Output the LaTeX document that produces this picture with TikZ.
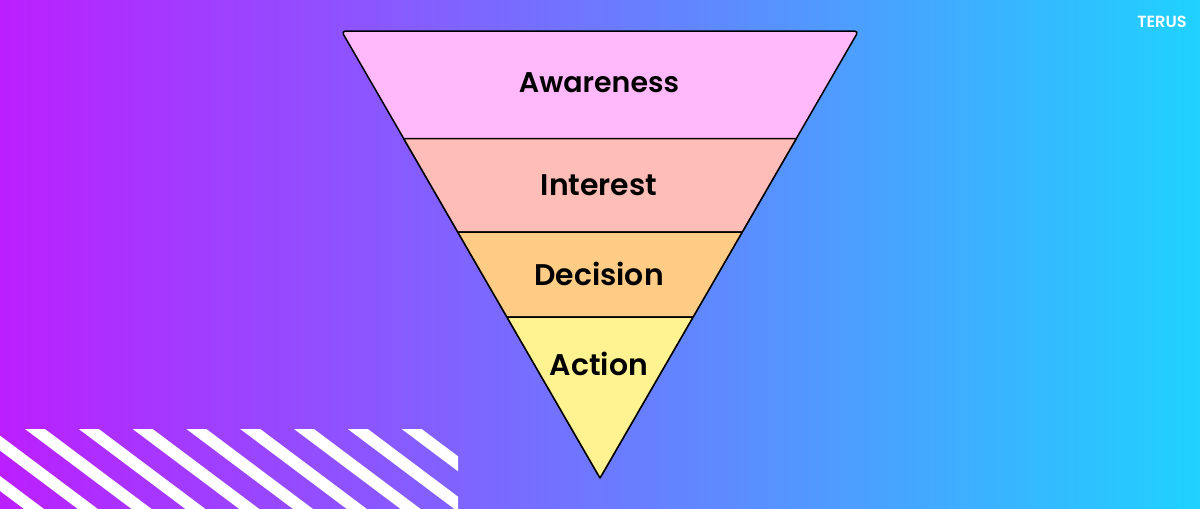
\documentclass[tikz,border=0pt]{standalone}
\usepackage{fontspec}
\setmainfont{Poppins}[BoldFont=Poppins SemiBold]
\usetikzlibrary{calc}
\definecolor{bgleft}{HTML}{BB1FFF}
\definecolor{bgmid}{HTML}{7070FF}
\definecolor{bgright}{HTML}{1FD2FF}
\definecolor{awarecol}{HTML}{FFB8FA}
\definecolor{interestcol}{HTML}{FFBDB8}
\definecolor{decisioncol}{HTML}{FFCC85}
\definecolor{actioncol}{HTML}{FFF291}
\tikzset{
  band/.style = {draw=black, line width=0.03cm, line join=round},
  bandlabel/.style = {font=\bfseries\fontsize{17}{19}\selectfont, text=black},
}
\begin{document}
\begin{tikzpicture}[x=0.02cm,y=-0.02cm]
  \useasboundingbox (0,0) rectangle (1200,508);
  \shade[left color=bgleft, middle color=bgmid, right color=bgright] (0,0) rectangle (1200,508);

  % stripes
  \begin{scope}
    \clip (0,429) rectangle (458,508);
    \foreach \s in {-3,...,7}
      \fill[white] ({25+53.8*\s},429) -- ({45+53.8*\s},429) -- ({45+53.8*\s+120},519) -- ({25+53.8*\s+120},519) -- cycle;
  \end{scope}

  \coordinate (tl) at (341.5,31);
  \coordinate (tr) at (858.5,31);
  \coordinate (apex) at (600,478);
  \coordinate (al) at ($(tl)!0.2405!(apex)$);
  \coordinate (ar) at ($(tr)!0.2405!(apex)$);
  \coordinate (il) at ($(tl)!0.4497!(apex)$);
  \coordinate (ir) at ($(tr)!0.4497!(apex)$);
  \coordinate (dl) at ($(tl)!0.6398!(apex)$);
  \coordinate (dr) at ($(tr)!0.6398!(apex)$);

  % funnel bands
  \draw[band, fill=awarecol, rounded corners=0.08cm] (tl) -- (tr) -- (apex) -- cycle;
  \draw[band, fill=interestcol] (al) -- (ar) -- (ir) -- (il) -- cycle;
  \draw[band, fill=decisioncol] (il) -- (ir) -- (dr) -- (dl) -- cycle;
  \draw[band, fill=actioncol] (dl) -- (dr) -- (apex) -- cycle;

  \node[bandlabel, font=\bfseries\fontsize{16.2}{18}\selectfont] (awareness) at (599,83) {Awareness};
  \node[bandlabel] (interest) at (599,185) {Interest};
  \node[bandlabel] (decision) at (599,274) {Decision};
  \node[bandlabel] (action) at (599,364) {Action};

  \node[font=\bfseries\fontsize{9.2}{11}\selectfont, text=white] (terus) at (1162,21.5) {TERUS};
\end{tikzpicture}
\end{document}
